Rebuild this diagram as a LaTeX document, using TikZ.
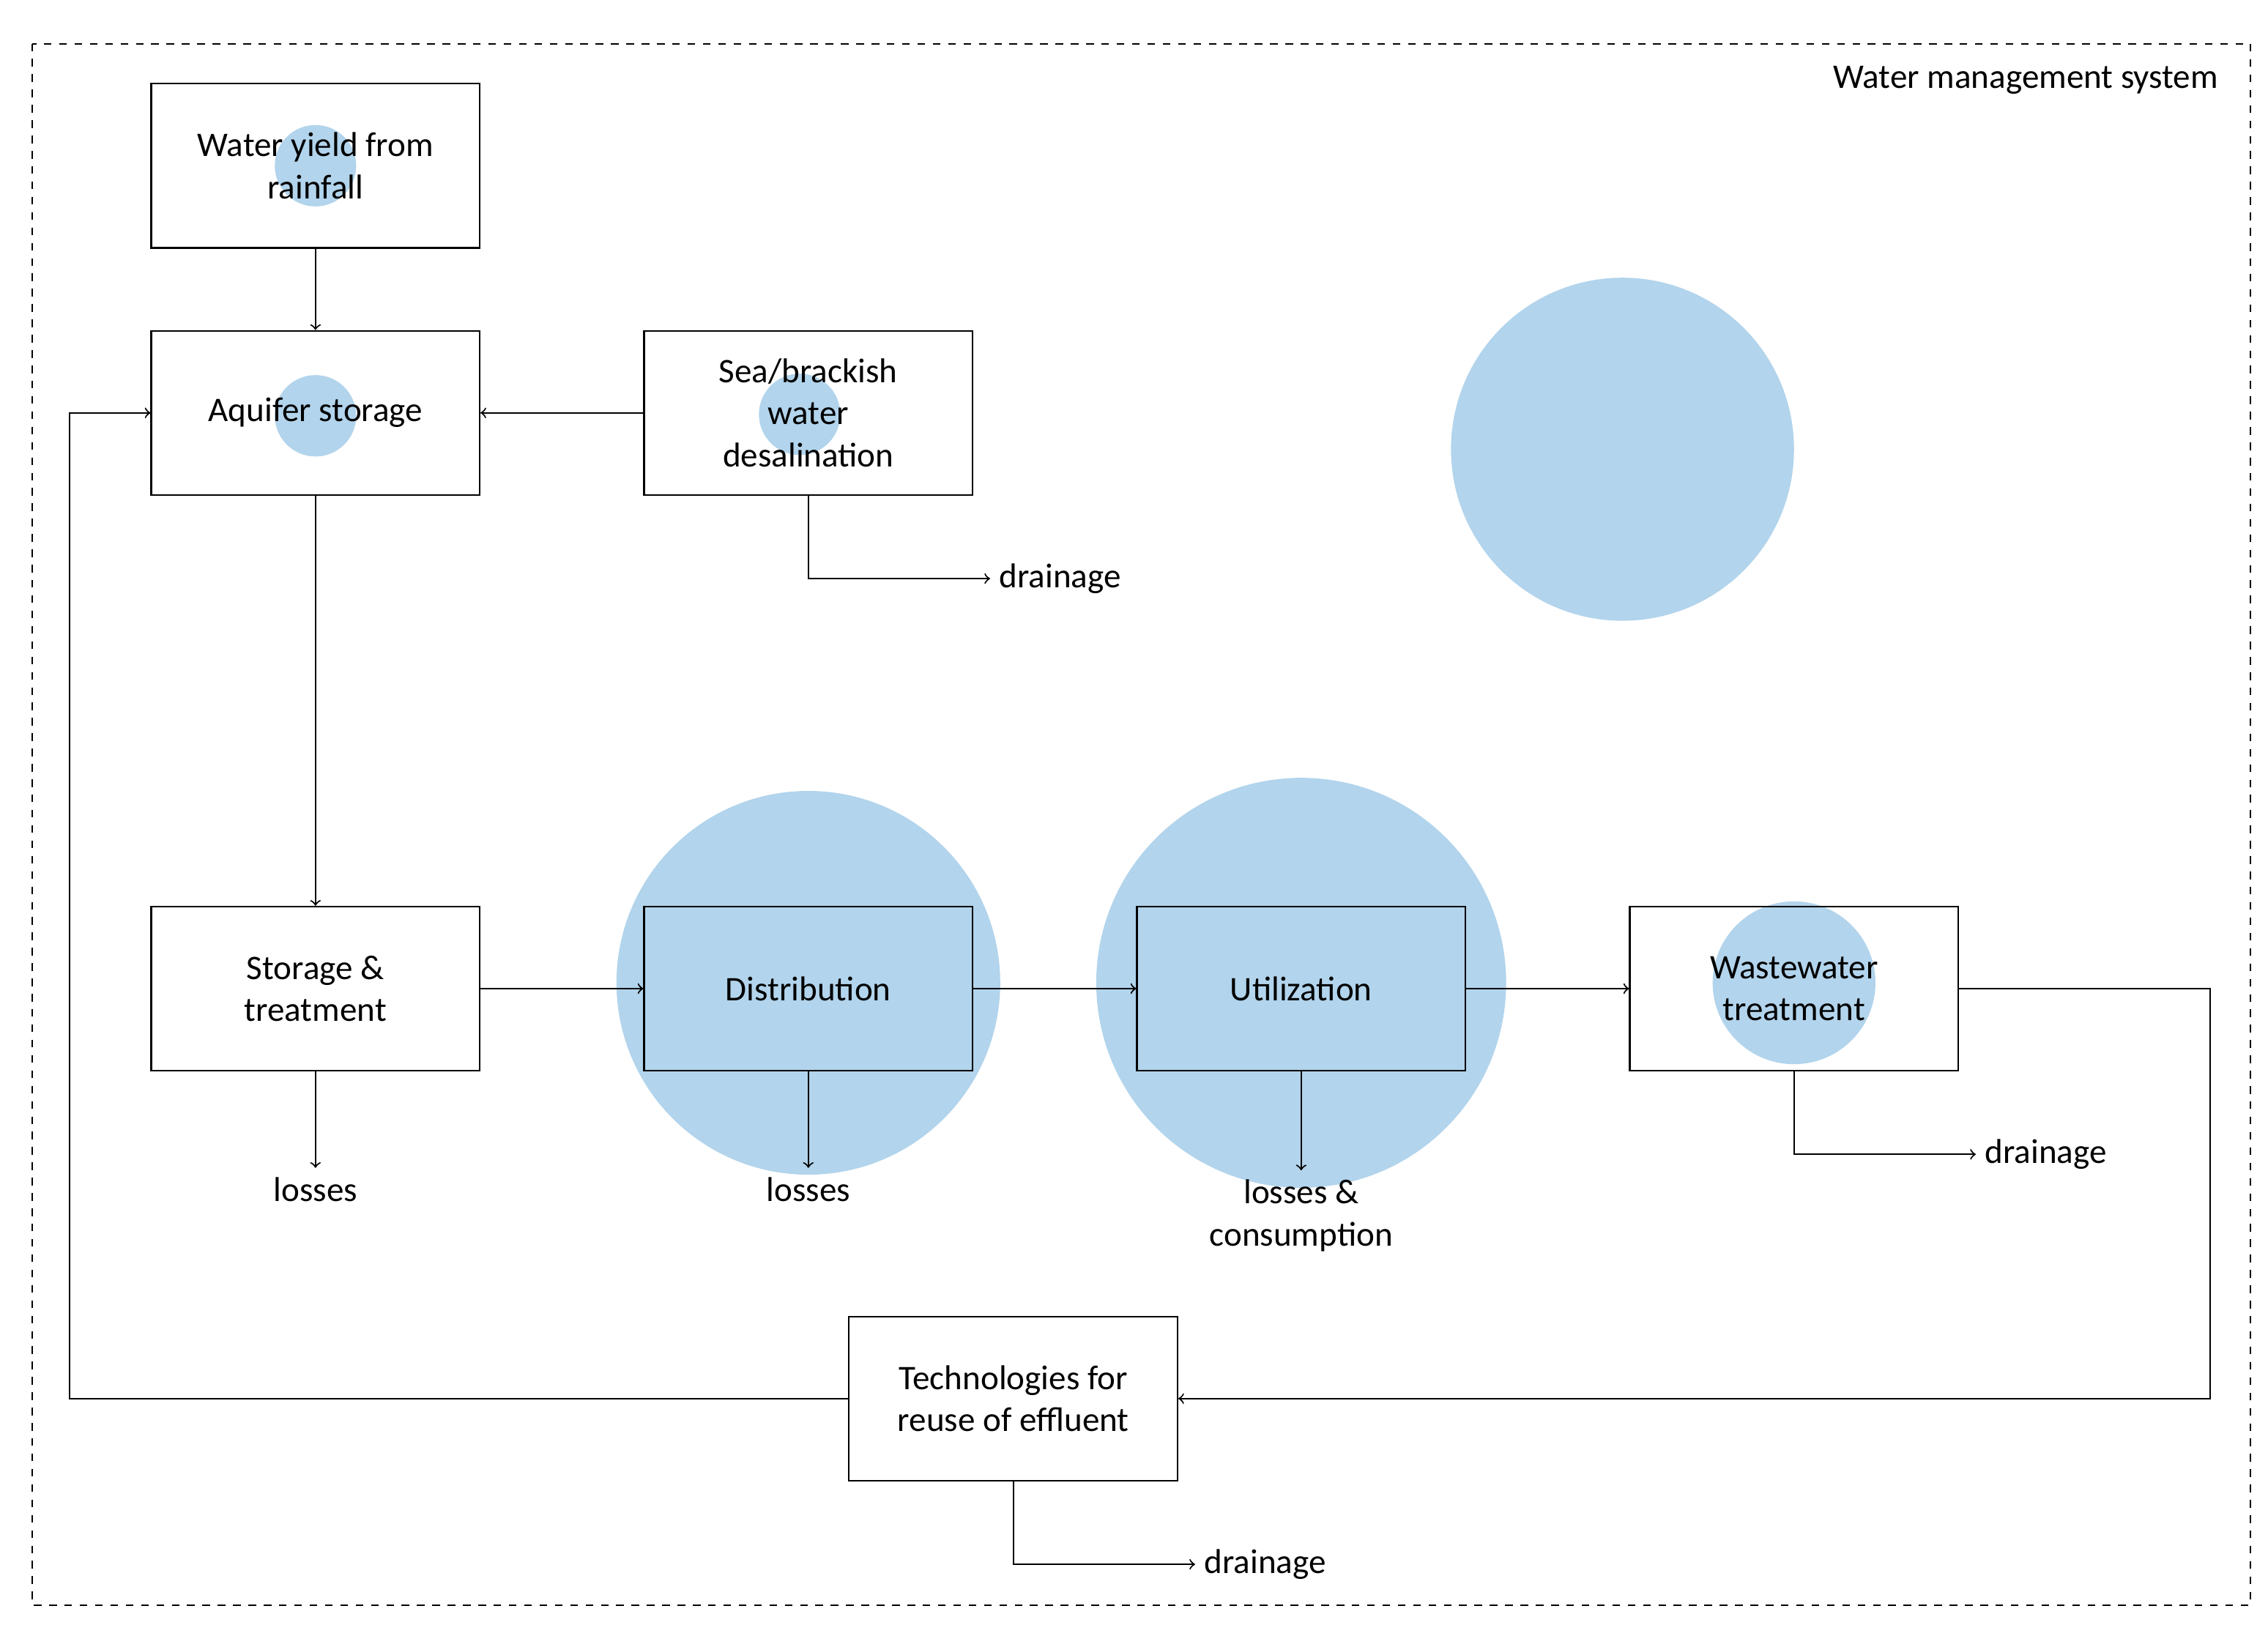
\documentclass[tikz,border=0pt]{standalone}
\usepackage{fontspec}
\setmainfont{Carlito}
\usepackage{tikz}
\usetikzlibrary{shapes,arrows}
\definecolor{bubbleBlue}{RGB}{178,212,236}

\begin{document}
\begin{tikzpicture}[x=0.02cm, y=-0.02cm, line width=0.6pt]%
  \tikzset{flow arrow/.style={draw,-to}}
  \tikzset{bubble/.style={fill=bubbleBlue, draw=none, circle, inner sep=0pt}}
  \tikzstyle{every node}=[font=\fontsize{13.5}{16.5}\selectfont, align=center]
  \tikzset{stepbox/.style={draw, minimum width=4.52cm, minimum height=2.26cm, inner sep=2pt}}

  \useasboundingbox (0,0) rectangle (1560,1125);
  \draw[dashed] (22,30) rectangle (1548,1104);
  \node[anchor=east] (title) at (1532,55) {Water management system};

  % bubbles behind the boxes
  \node[bubble, minimum size=1.12cm] (b1) at (217,114) {};
  \node[bubble, minimum size=1.12cm] (b2) at (217,286) {};
  \node[bubble, minimum size=1.12cm] (b3) at (550,285) {};
  \node[bubble, minimum size=4.72cm] (b4) at (1116,309) {};
  \node[bubble, minimum size=5.28cm] (b5) at (556,676) {};
  \node[bubble, minimum size=5.64cm] (b6) at (895,676) {};
  \node[bubble, minimum size=2.24cm] (b7) at (1234,676) {};

  \node[stepbox] at (217,114) (RAIN) {Water yield from\\rainfall};
  \node[stepbox] at (217,284) (AQ) {Aquifer storage};
  \node[stepbox] at (556,284) (DESAL) {Sea/brackish\\water\\desalination};
  \node[stepbox] at (217,680) (ST) {Storage \&\\treatment};
  \node[stepbox] at (556,680) (DIST) {Distribution};
  \node[stepbox] at (895,680) (UTIL) {Utilization};
  \node[stepbox] at (1234,680) (WW) {Wastewater\\treatment};
  \node[stepbox] at (697,962) (TECH) {Technologies for\\reuse of effluent};

  \node at (217,818) (L1) {losses};
  \node at (556,818) (L2) {losses};
  \node at (895,836) (L3) {losses \&\\consumption};
  \node[anchor=west] at (681,398) (D1) {drainage};
  \node[anchor=west] at (1359,794) (D2) {drainage};
  \node[anchor=west] at (822,1076) (D3) {drainage};

  \coordinate (c1) at (1520,680);
  \coordinate (c2) at (1520,962);
  \coordinate (c3) at (48,962);
  \coordinate (c4) at (48,284);

  \path[flow arrow] (RAIN) -- (AQ);
  \path[flow arrow] (DESAL) -- (AQ);
  \path[flow arrow] (AQ) -- (ST);
  \path[flow arrow] (ST) -- (DIST);
  \path[flow arrow] (DIST) -- (UTIL);
  \path[flow arrow] (UTIL) -- (WW);
  \path[flow arrow] (WW.east) -- (c1) -- (c2) -- (TECH.east);
  \path[flow arrow] (TECH.west) -- (c3) -- (c4) -- (AQ.west);
  \path[flow arrow] (ST) -- (L1);
  \path[flow arrow] (DIST) -- (L2);
  \path[flow arrow] (UTIL) -- (L3);
  \path[flow arrow] (DESAL.south) |- (D1.west);
  \path[flow arrow] (WW.south) |- (D2.west);
  \path[flow arrow] (TECH.south) |- (D3.west);
\end{tikzpicture}
\end{document}
